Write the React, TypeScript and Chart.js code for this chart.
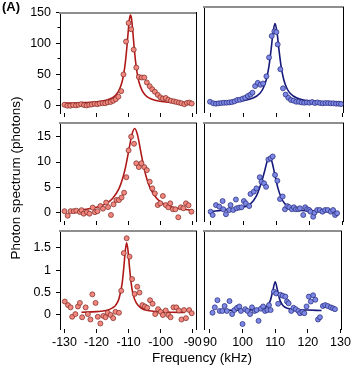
import React, { useEffect, useRef } from 'react';
import { Chart, registerables } from 'chart.js';

Chart.register(...registerables);

const FONT_FAMILY = "'Liberation Sans', Arial, Helvetica, sans-serif";
const W = 353;
const H = 369;

// ---------- data ----------
// top-left (red, 0..150)
const tlFreq = [-130, -129.1, -128.2, -127.3, -126.4, -125.6, -124.8, -123.9, -123.1, -122.3, -121.5, -120.6, -119.8, -119.0, -118.1, -117.3, -116.5, -115.6, -114.8, -114.0, -113.2, -112.3, -111.6, -110.8, -110.0, -109.2, -108.4, -107.6, -106.8, -105.9, -105.1, -104.3, -103.4, -102.6, -101.8, -100.9, -100.1, -99.3, -98.4, -97.6, -96.8, -95.9, -95.1, -94.3, -93.5, -92.6, -91.8, -91.0, -90.3];
const tlVal = [1.0, -0.5, -0.5, 0.5, 0, 1, 2, 0.5, 0, 1, 1.5, 2.5, 2, 3, 3.5, 3.5, 5, 5.5, 7.5, 10, 14, 23, 50, 103, 133, 123, 90, 61, 46, 45, 45, 37, 31, 26, 22, 17, 13, 11, 12, 9, 7.5, 6.5, 5.5, 4.5, 3.5, 2, 4, 4.5, 3];
const tlFitFreq = [-130, -125, -120, -117, -115, -114, -113, -112, -111.5, -111, -110.5, -110, -109.7, -109.4, -109.1, -108.8, -108.3, -107.8, -107.3, -106.8, -105.8, -104.8, -103.8, -101.8, -99, -95, -90];
const tlFitVal = [3.8, 4.3, 5.8, 8.4, 12.6, 16.7, 24.2, 38.7, 51.3, 69.8, 95.9, 126.3, 140.5, 146, 140.5, 126.3, 95.9, 69.8, 51.3, 38.7, 24.2, 16.7, 12.6, 8.4, 5.9, 4.5, 3.9];

// top-right (blue, 0..150)
const trFreq = [90, 91, 91.8, 92.6, 93.4, 94.2, 95, 95.8, 96.6, 97.4, 98.2, 99, 99.8, 100.6, 101.4, 102.2, 102.8, 103.6, 104.4, 105.2, 106, 107, 107.8, 108.6, 109.4, 110, 110.4, 111.2, 112, 112.8, 113.6, 114.4, 115.2, 116, 116.8, 117.6, 118.4, 119.2, 120, 120.8, 121.6, 122.4, 123.2, 124, 124.8, 125.6, 126.4, 127.2, 128, 128.8, 129.5];
const trVal = [5, 2.6, 2, 2.6, 3, 3.5, 3.5, 4, 4.5, 5.6, 7.7, 8, 9.7, 11, 13.8, 16, 19, 29, 34, 31, 33, 44, 73, 106, 113, 112, 93, 55, 25.6, 16, 11, 7.7, 6.7, 5, 5, 4, 3.5, 4, 3.5, 4.6, 3, 4, 3, 2.6, 3, 3, 2.6, 2.6, 2, 2, 1.5];
const trFitFreq = [90, 95, 100, 103, 105, 106, 107, 107.8, 108.4, 109, 109.6, 110.2, 110.8, 111.4, 112.2, 113.2, 114.2, 116.2, 119.2, 124.6, 130];
const trFitVal = [3.9, 4.6, 6.7, 10.6, 17.7, 25.3, 39.5, 60.5, 84.4, 111.4, 125, 111.4, 84.4, 60.5, 39.5, 25.3, 17.7, 10.6, 6.7, 4.5, 3.8];

// middle-left (red, 0..15)
const mlFreq = [-130, -129, -128.1, -127.1, -126.3, -125.2, -124.7, -124, -123, -122.2, -121.2, -120.5, -119.7, -118.8, -118, -117, -116.4, -115.5, -114.7, -113.8, -113, -112.2, -111.4, -110.7, -110, -109.2, -108.3, -107.6, -106.8, -106, -105.1, -104.3, -103.4, -102.6, -101.8, -100.9, -100.1, -99.3, -98.4, -97.6, -97, -96.2, -95.4, -94.5, -93.7, -92.9, -92.1, -91.3, -90.4];
const mlVal = [0.3, -0.6, 0.3, 0.3, 0.4, 0.15, 0.5, -0.2, 0.1, -0.2, 1, 0.1, 0.3, 1.3, 0.8, 2.0, 1.1, -0.45, 1.65, 2.5, 2.5, 3.0, 3.95, 7.0, 12.3, 15.0, 13.6, 9.75, 9, 9.75, 9, 8.4, 6.1, 4.8, 3.8, 1.5, 1.85, 3.3, 1.5, 1.07, 1.85, 0.67, 0.67, -0.9, 1.07, 0.87, 1.85, 1.46, 0.2];
const mlFitFreq = [-125, -120, -117, -115, -113, -112, -111, -110, -109, -108.1, -107.2, -106.2, -105.2, -104.2, -103.2, -101.2, -99.2, -96.2, -93, -90];
const mlFitVal = [0.54, 1.06, 1.8, 2.79, 4.74, 6.43, 8.85, 12.06, 15.3, 16.6, 15.3, 12.06, 8.85, 6.43, 4.74, 2.79, 1.8, 1.06, 0.67, 0.47];

// middle-right (blue, 0..15)
const mrFreq = [90.2, 90.8, 91.8, 92.8, 93.8, 94, 94.8, 95.8, 96.2, 97, 97.8, 98, 98.8, 99.5, 100.2, 100.8, 101.8, 102.2, 103.2, 104, 105, 105.5, 106.3, 106.9, 107.6, 108.3, 108.9, 109.6, 110.3, 111.1, 111.9, 112.6, 113.3, 113.9, 114.7, 115.3, 115.9, 116.6, 117.1, 118.1, 118.7, 119.3, 119.9, 120.3, 121.1, 121.5, 122.3, 123.1, 123.9, 124.7, 125.5, 126.4, 127.1, 127.7, 128.3];
const mrVal = [0.2, -0.45, 1.5, 1.2, 2.3, 0.67, -0.3, 0.53, 1.5, 0.53, 2.6, 0.87, 1.0, 1.07, 2.3, 1.85, 1.3, 3.7, 4.15, 4.8, 7.0, 6.1, 5.8, 5.1, 10.5, 10.75, 11.1, 7.45, 6.3, 2.7, 3.2, 0.67, 1.3, 1.07, 0.67, 1.07, 0.67, 0.67, 0.87, -0.45, 1.07, 0.67, 0.53, 0.2, -0.8, 0, 0.53, 0.53, 0.2, 0.53, 0.53, 0.2, 0.53, -0.45, -0.1];
const mrFitFreq = [90, 95, 100, 102, 104, 105.5, 106.5, 107.3, 108, 108.7, 109.5, 110.5, 111.5, 112.5, 114, 116, 120, 124, 128.5];
const mrFitVal = [0.2, 0.6, 1.1, 1.6, 3.3, 6.0, 8.3, 10.3, 10.9, 10.0, 7.6, 4.8, 2.9, 1.8, 0.9, 0.55, 0.35, 0.25, 0.2];

// bottom-left (red, 0..1.5)
const blFreq = [-129.9, -128.9, -128.1, -127.6, -126.6, -125.8, -125.2, -124.5, -123.4, -122.7, -121.9, -121.3, -120.3, -119.6, -118.8, -117.9, -117.2, -116.5, -115.6, -114.8, -114.1, -113, -112.3, -111.5, -110.6, -109.7, -108.9, -108.1, -107.3, -106.6, -105.7, -104.9, -104.2, -103.3, -102.5, -101.7, -100.8, -100, -99.3, -98.4, -97.6, -96.9, -96, -95.1, -94.3, -93.5, -92.7, -92.1, -91.1, -90.3];
const blVal = [0.30, 0.22, 0.17, -0.04, 0.02, 0.19, 0.27, -0.05, 0.17, 0.02, -0.10, 0.46, 0.27, -0.04, -0.19, -0.02, -0.05, 0.05, 0.0, -0.07, 0.07, 0.05, 0.54, 1.38, 1.71, 1.30, 0.80, 0.47, 0.63, 0.50, 0.22, 0.19, 0.16, 0.33, 0.25, 0.02, 0.13, 0.07, 0.0, 0.1, 0.0, -0.05, 0.17, 0.17, 0.1, -0.1, 0.11, -0.07, 0.11, 0.04];
const blFitFreq = [-124.7, -120, -117, -115, -114, -113, -112, -111.5, -111, -110.6, -110.2, -109.7, -109.2, -108.6, -107.6, -106, -104, -101, -97, -92.5];
const blFitVal = [0.06, 0.075, 0.10, 0.16, 0.22, 0.36, 0.71, 1.05, 1.45, 1.61, 1.45, 1.05, 0.71, 0.46, 0.27, 0.15, 0.10, 0.074, 0.062, 0.057];

// bottom-right (blue, 0..1.5)
const brFreq = [90.8, 91.5, 92.3, 93, 93.8, 94.5, 95.2, 96, 96.8, 97.5, 98.3, 99, 99.5, 100, 100.8, 101.5, 102.3, 102.9, 103.7, 104.3, 104.9, 105.6, 106.3, 106.9, 107.6, 108.1, 108.6, 109.6, 110.3, 110.9, 111.6, 112.3, 113.1, 113.6, 114.1, 114.9, 115.6, 116.3, 117.1, 117.6, 118.3, 118.9, 119.6, 120.3, 120.9, 121.6, 122.3, 123.1, 123.7, 124.6, 125.3, 126.1, 127, 127.7, 128.3];
const brVal = [0.05, 0.17, 0.33, 0.09, 0.09, 0.2, 0.09, 0.31, 0.02, 0.11, 0.16, 0.19, 0.09, -0.2, 0.13, 0.09, 0.02, 0.17, 0.09, 0.11, -0.13, 0.14, 0.19, 0.09, 0.11, 0.22, 0.11, 0.52, 0.48, 0.25, 0.45, 0.43, 0.41, 0.3, 0.26, 0.09, 0.16, 0.13, 0.09, 0.04, 0.07, 0.04, 0.19, 0.41, 0.3, 0.44, 0.34, -0.1, -0.05, 0.2, 0.22, 0.2, 0.17, 0.15, 0.13];
const brFitFreq = [92.6, 100, 104, 106, 107.5, 108.5, 109.3, 110, 110.7, 111.5, 112.5, 114, 116, 120, 124.2];
const brFitVal = [0.10, 0.11, 0.12, 0.145, 0.20, 0.32, 0.55, 0.74, 0.55, 0.32, 0.20, 0.145, 0.12, 0.11, 0.10];

// tick labels
const leftXTicks = [-130, -120, -110, -100, -90];
const rightXTicks = [90, 100, 110, 120, 130];
const topYTicks = [0, 50, 100, 150];
const topYMinor = [25, 75, 125];
const midYTicks = [0, 5, 10, 15];
const botYTicks = [0, 0.5, 1, 1.5];

const xTitle = 'Frequency (kHz)';
const yTitle = 'Photon spectrum (photons)';
const panelLabel = '(A)';

// ---------- styling / layout ----------
const RED = { fill: '#f2877f', edge: '#7a2620', line: '#b01818' };
const BLUE = { fill: '#7d88e4', edge: '#23277a', line: '#16197a' };

const COLS = [
  { left: 60, right: 196.5, xMin: -131.4, xMax: -88.81, xTicks: leftXTicks, yLabels: true },
  { left: 204.2, right: 343.5, xMin: 88.25, xMax: 130.24, xTicks: rightXTicks, yLabels: false },
];
const ROWS = [
  { top: 7.3, bottom: 113, yMin: -12.28, yMax: 150, yTicks: topYTicks, yMinor: topYMinor, xLabels: false },
  { top: 123.3, bottom: 221, yMin: -1.64, yMax: 17.64, yTicks: midYTicks, yMinor: [] as number[], xLabels: false },
  { top: 231.3, bottom: 329, yMin: -0.312, yMax: 1.865, yTicks: botYTicks, yMinor: [] as number[], xLabels: true },
];

type Panel = {
  row: number; col: number;
  freq: number[]; val: number[]; fitFreq: number[]; fitVal: number[];
  color: { fill: string; edge: string; line: string };
};

const PANELS: Panel[] = [
  { row: 0, col: 0, freq: tlFreq, val: tlVal, fitFreq: tlFitFreq, fitVal: tlFitVal, color: RED },
  { row: 0, col: 1, freq: trFreq, val: trVal, fitFreq: trFitFreq, fitVal: trFitVal, color: BLUE },
  { row: 1, col: 0, freq: mlFreq, val: mlVal, fitFreq: mlFitFreq, fitVal: mlFitVal, color: RED },
  { row: 1, col: 1, freq: mrFreq, val: mrVal, fitFreq: mrFitFreq, fitVal: mrFitVal, color: BLUE },
  { row: 2, col: 0, freq: blFreq, val: blVal, fitFreq: blFitFreq, fitVal: blFitVal, color: RED },
  { row: 2, col: 1, freq: brFreq, val: brVal, fitFreq: brFitFreq, fitVal: brFitVal, color: BLUE },
];

const toPts = (xs: number[], ys: number[]) => xs.map((x, i) => ({ x, y: ys[i] }));

function panelConfig(p: Panel): any {
  const c = COLS[p.col];
  const r = ROWS[p.row];
  const yW = p.col === 0 ? 58 : 0;
  const xH = 20;
  const tickFont = { family: FONT_FAMILY, size: 12.5 };
  const scales: any = {
    x: {
      type: 'linear', position: 'bottom', min: c.xMin, max: c.xMax,
      afterBuildTicks: (s: any) => { s.ticks = c.xTicks.map((v) => ({ value: v })); },
      ticks: { display: r.xLabels, color: '#000', font: tickFont, padding: 2, maxRotation: 0, autoSkip: false, callback: (v: any) => String(v) },
      grid: { display: true, drawOnChartArea: false, drawTicks: true, tickLength: 4, color: '#000', lineWidth: 1 },
      border: { display: false },
      afterFit: (s: any) => { s.height = xH; },
    },
    y: {
      type: 'linear', position: 'left', min: r.yMin, max: r.yMax,
      afterBuildTicks: (s: any) => { s.ticks = r.yTicks.map((v) => ({ value: v })); },
      ticks: { display: c.yLabels, color: '#000', font: tickFont, padding: 5, autoSkip: false, callback: (v: any) => String(v) },
      grid: { display: c.yLabels, drawOnChartArea: false, drawTicks: true, tickLength: 4, color: '#000', lineWidth: 1 },
      border: { display: true, color: '#000', width: 1 },
      afterFit: (s: any) => { s.width = yW; },
    },
    xTop: {
      type: 'linear', position: 'top', min: c.xMin, max: c.xMax,
      ticks: { display: false }, grid: { display: false },
      border: { display: true, color: '#8e8e8e', width: 2 },
      afterFit: (s: any) => { s.height = 0; },
    },
    yRight: {
      type: 'linear', position: 'right', min: r.yMin, max: r.yMax,
      ticks: { display: false }, grid: { display: false },
      border: { display: true, color: '#000', width: 1 },
      afterFit: (s: any) => { s.width = 0; },
    },
  };
  if (c.yLabels && r.yMinor.length) {
    scales.yMinor = {
      type: 'linear', position: 'left', weight: -1, min: r.yMin, max: r.yMax,
      afterBuildTicks: (s: any) => { s.ticks = r.yMinor.map((v) => ({ value: v })); },
      ticks: { display: false },
      grid: { display: true, drawOnChartArea: false, drawTicks: true, tickLength: 2.5, color: '#000', lineWidth: 1 },
      border: { display: false },
      afterFit: (s: any) => { s.width = 0; },
    };
  }
  return {
    type: 'scatter',
    data: {
      datasets: [
        {
          data: toPts(p.freq, p.val), xAxisID: 'x', yAxisID: 'y', order: 0,
          showLine: false, pointRadius: 2.5, pointBorderWidth: 0.7,
          pointBackgroundColor: p.color.fill, pointBorderColor: p.color.edge,
        },
        {
          data: toPts(p.fitFreq, p.fitVal), xAxisID: 'x', yAxisID: 'y', order: 1,
          showLine: true, pointRadius: 0, borderColor: p.color.line, borderWidth: 1.6,
          cubicInterpolationMode: 'monotone', fill: false,
        },
      ],
    },
    options: {
      animation: false, responsive: false, devicePixelRatio: 1, events: [],
      layout: { padding: { left: c.left - yW, right: W - c.right, top: r.top, bottom: H - r.bottom - xH } },
      plugins: { legend: { display: false }, tooltip: { enabled: false }, title: { display: false } },
      scales,
    },
  };
}

function helperConfig(): any {
  const titleFont = { family: FONT_FAMILY, size: 13.5 };
  return {
    type: 'scatter',
    data: { datasets: [] },
    options: {
      animation: false, responsive: false, devicePixelRatio: 1, events: [],
      layout: { padding: { left: 2, right: W - 344, top: 0, bottom: 0 } },
      plugins: {
        legend: { display: false }, tooltip: { enabled: false },
        title: {
          display: true, text: panelLabel, align: 'start', color: '#000',
          font: { family: FONT_FAMILY, size: 13, weight: 'bold' }, padding: { top: 0, bottom: 0 },
        },
      },
      scales: {
        x: {
          type: 'linear', position: 'bottom', min: 0, max: 1,
          ticks: { display: false }, grid: { display: false }, border: { display: false },
          title: { display: true, text: xTitle, color: '#000', font: titleFont, padding: { top: 0, bottom: 3 } },
          afterFit: (s: any) => { s.height = 28.6; },
        },
        y: {
          type: 'linear', position: 'left', min: 0, max: 1,
          ticks: { display: false }, grid: { display: false }, border: { display: false },
          title: { display: true, text: yTitle, color: '#000', font: titleFont, padding: { top: 6, bottom: 0 } },
          afterFit: (s: any) => { s.width = 58; },
        },
      },
    },
  };
}

export default function App() {
  const helperRef = useRef<HTMLCanvasElement | null>(null);
  const panelRefs = useRef<(HTMLCanvasElement | null)[]>([]);

  useEffect(() => {
    const charts: Chart[] = [];
    if (helperRef.current) charts.push(new Chart(helperRef.current, helperConfig()));
    PANELS.forEach((p, i) => {
      const el = panelRefs.current[i];
      if (el) charts.push(new Chart(el, panelConfig(p)));
    });
    return () => charts.forEach((ch) => ch.destroy());
  }, []);

  const canvasStyle: React.CSSProperties = { position: 'absolute', left: 0, top: 0, width: W, height: H };
  return (
    <div style={{ position: 'absolute', left: 0, top: 0, width: W, height: H, background: '#fff', overflow: 'hidden' }}>
      <canvas ref={helperRef} width={W} height={H} style={canvasStyle} />
      {PANELS.map((_, i) => (
        <canvas key={i} ref={(el) => { panelRefs.current[i] = el; }} width={W} height={H} style={canvasStyle} />
      ))}
    </div>
  );
}
